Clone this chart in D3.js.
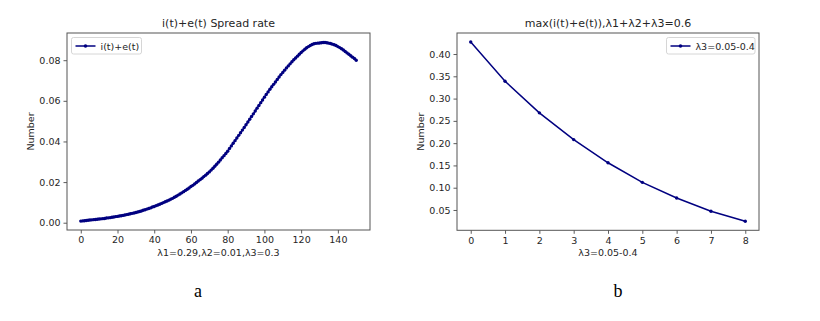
<!DOCTYPE html>
<html><head><meta charset="utf-8">
<script src="https://cdn.jsdelivr.net/npm/d3@7"></script>
<style>
body{margin:0;background:#fff;}
svg text{font-family:"DejaVu Sans",sans-serif;fill:#262626;}
</style></head>
<body><svg id="c" width="820" height="321"></svg>
<script>
// Chart a: i(t)+e(t) spread rate, t = 0..150
const spreadT = d3.range(0, 151);
const spreadValues = [
0.0008,0.0009,0.0010,0.0011,0.0012,0.0013,0.0014,0.0015,0.0016,0.0017,
0.0018,0.0019,0.0020,0.0021,0.0023,0.0024,0.0025,0.0027,0.0028,0.0030,
0.0031,0.0033,0.0034,0.0036,0.0038,0.0040,0.0042,0.0044,0.0046,0.0048,
0.0050,0.0053,0.0055,0.0058,0.0061,0.0064,0.0067,0.0070,0.0073,0.0077,
0.0080,0.0084,0.0087,0.0091,0.0095,0.0099,0.0103,0.0107,0.0111,0.0116,
0.0120,0.0125,0.0130,0.0136,0.0141,0.0147,0.0153,0.0159,0.0165,0.0171,
0.0178,0.0184,0.0191,0.0198,0.0205,0.0212,0.0219,0.0227,0.0234,0.0242,
0.0250,0.0259,0.0268,0.0278,0.0288,0.0298,0.0309,0.0320,0.0330,0.0341,
0.0352,0.0365,0.0378,0.0391,0.0404,0.0417,0.0430,0.0443,0.0456,0.0469,
0.0482,0.0496,0.0509,0.0523,0.0536,0.0550,0.0564,0.0577,0.0591,0.0604,
0.0618,0.0631,0.0644,0.0657,0.0669,0.0681,0.0693,0.0705,0.0717,0.0729,
0.0740,0.0751,0.0762,0.0772,0.0782,0.0792,0.0802,0.0811,0.0820,0.0829,
0.0838,0.0846,0.0854,0.0861,0.0867,0.0872,0.0877,0.0881,0.0883,0.0884,
0.0885,0.0886,0.0887,0.0887,0.0886,0.0884,0.0882,0.0879,0.0876,0.0872,
0.0867,0.0862,0.0856,0.0850,0.0843,0.0836,0.0829,0.0822,0.0815,0.0808,
0.0800];
const aXTicks = [0,20,40,60,80,100,120,140];
const aYTicks = [0.00,0.02,0.04,0.06,0.08];

// Chart b: max(i(t)+e(t)) for lambda3 = 0.05..0.4
const lambdaIdx = [0,1,2,3,4,5,6,7,8];
const maxValues = [0.427,0.339,0.268,0.208,0.156,0.112,0.077,0.047,0.0246];
const bXTicks = [0,1,2,3,4,5,6,7,8];
const bYTicks = [0.05,0.10,0.15,0.20,0.25,0.30,0.35,0.40];

const svg = d3.select("#c");
const navy = "#000080";

function panel(opt){
  const {x0,x1,y0,y1} = opt;
  const g = svg.append("g");
  const xs = d3.scaleLinear().domain(opt.xDomain).range([x0,x1]);
  const ys = d3.scaleLinear().domain(opt.yDomain).range([y1,y0]);
  const xa = g.append("g").attr("transform",`translate(0,${y1})`)
    .call(d3.axisBottom(xs).tickValues(opt.xTicks).tickSize(3.5).tickPadding(3).tickFormat(opt.xFmt));
  const ya = g.append("g").attr("transform",`translate(${x0},0)`)
    .call(d3.axisLeft(ys).tickValues(opt.yTicks).tickSize(3.5).tickPadding(3).tickFormat(opt.yFmt));
  [xa,ya].forEach(a=>{
    a.select(".domain").remove();
    a.selectAll("line").attr("stroke","#333").attr("stroke-width",0.8);
    a.selectAll("text").attr("font-size","9.5px").style("fill","#262626").attr("font-family","DejaVu Sans");
  });
  g.append("rect").attr("x",x0).attr("y",y0).attr("width",x1-x0).attr("height",y1-y0)
    .attr("fill","none").attr("stroke","#555").attr("stroke-width",1);
  const line = d3.line().x(d=>xs(d[0])).y(d=>ys(d[1]));
  const pts = opt.xs.map((v,i)=>[v,opt.ys[i]]);
  g.append("path").datum(pts).attr("d",line).attr("fill","none").attr("stroke",navy).attr("stroke-width",opt.lw);
  g.selectAll("circle.m").data(pts).join("circle").attr("class","m")
    .attr("cx",d=>xs(d[0])).attr("cy",d=>ys(d[1])).attr("r",opt.mr).attr("fill",navy);
  // title
  g.append("text").attr("x",(x0+x1)/2).attr("y",y0-6).attr("text-anchor","middle")
    .attr("font-size","11px").text(opt.title);
  g.append("text").attr("x",(x0+x1)/2).attr("y",y1+26).attr("text-anchor","middle")
    .attr("font-size","9.5px").text(opt.xLabel);
  g.append("text").attr("transform",`translate(${opt.yLabelX},${(y0+y1)/2}) rotate(-90)`)
    .attr("text-anchor","middle").attr("font-size","9.5px").text("Number");
  // legend
  const L = opt.legend;
  g.append("rect").attr("x",L.x).attr("y",L.y).attr("width",L.w).attr("height",16.5).attr("rx",2)
    .attr("fill","#fff").attr("stroke","#ccc").attr("stroke-width",0.8);
  g.append("line").attr("x1",L.x+4).attr("x2",L.x+24).attr("y1",L.y+8.5).attr("y2",L.y+8.5)
    .attr("stroke",navy).attr("stroke-width",1.5);
  g.append("circle").attr("cx",L.x+14).attr("cy",L.y+8.5).attr("r",1.8).attr("fill",navy);
  g.append("text").attr("x",L.x+29).attr("y",L.y+12).attr("font-size","9.5px").text(L.text);
  // caption
  g.append("text").attr("x",opt.capX).attr("y",297).attr("text-anchor","middle")
    .attr("font-size","18px").style("font-family","Liberation Serif, serif")
    .style("fill","#000").text(opt.caption);
}

panel({x0:67,x1:370,y0:33,y1:230,xDomain:[-7.5,157.5],yDomain:[-0.00359,0.09339],
  xTicks:aXTicks,yTicks:aYTicks,xFmt:d3.format("d"),yFmt:d3.format(".2f"),
  xs:spreadT,ys:spreadValues,lw:1.5,mr:1.7,
  title:"i(t)+e(t) Spread rate",xLabel:"λ1=0.29,λ2=0.01,λ3=0.3",yLabelX:34,
  legend:{x:71.5,y:37.5,w:70,text:"i(t)+e(t)"},capX:198,caption:"a"});

panel({x0:457,x1:759,y0:33,y1:230.3,xDomain:[-0.4,8.4],yDomain:[0.0044,0.4472],
  xTicks:bXTicks,yTicks:bYTicks,xFmt:d3.format("d"),yFmt:d3.format(".2f"),
  xs:lambdaIdx,ys:maxValues,lw:1.5,mr:1.7,
  title:"max(i(t)+e(t)),λ1+λ2+λ3=0.6",xLabel:"λ3=0.05-0.4",yLabelX:424,
  legend:{x:666.5,y:37.5,w:88.5,text:"λ3=0.05-0.4"},capX:618,caption:"b"});
</script></body></html>
